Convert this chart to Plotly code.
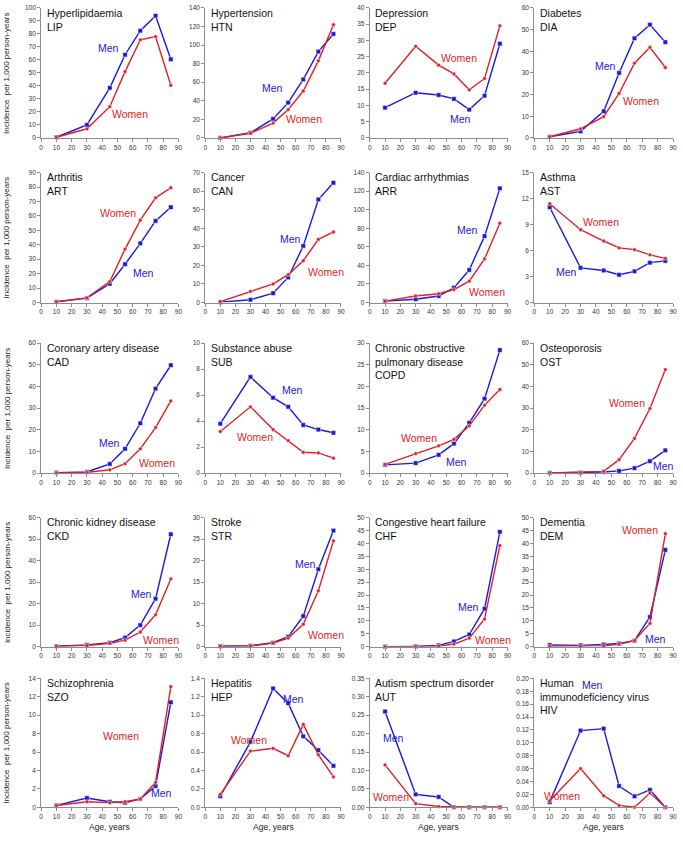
import plotly.graph_objects as go

ages = [10, 30, 45, 55, 65, 75, 85]

lip_men = [0.5, 10, 38.5, 64, 82.5, 94, 60.5]
lip_women = [0.5, 7, 24, 51, 75.5, 78, 40.5]
htn_men = [0, 5.5, 20.5, 38, 63, 93, 112]
htn_women = [0, 5, 16, 30.5, 50.5, 83, 122]
dep_men = [9.3, 13.9, 13.2, 12, 8.7, 13, 29]
dep_women = [16.8, 28.2, 22.4, 19.7, 14.8, 18.3, 34.5]
dia_men = [0.5, 3, 12.3, 30, 46, 52.3, 44.2]
dia_women = [0.5, 4.2, 9.8, 20.5, 34.5, 41.8, 32.5]
art_men = [0.5, 3, 13, 26.5, 41, 56.5, 66]
art_women = [0.5, 3.2, 14.5, 37, 57, 72.5, 79.5]
can_men = [0.2, 1.5, 5, 13.5, 30.5, 55.5, 64.5]
can_women = [0.5, 6, 10, 15, 22.5, 34, 38]
arr_men = [1.5, 3.5, 7, 16, 35, 71.5, 123]
arr_women = [1.5, 7, 9.5, 14, 23, 47, 85.5]
ast_men = [11, 4, 3.7, 3.2, 3.6, 4.6, 4.8]
ast_women = [11.4, 8.4, 7.1, 6.3, 6.1, 5.5, 5.1]
cad_men = [0.2, 0.5, 4.2, 11.2, 23, 39, 49.8]
cad_women = [0.1, 0.3, 1.5, 4.3, 11.2, 21, 33.3]
sub_men = [3.8, 7.4, 5.8, 5.1, 3.7, 3.35, 3.1]
sub_women = [3.2, 5.1, 3.35, 2.5, 1.6, 1.55, 1.15]
copd_men = [1.9, 2.3, 4.2, 6.8, 11.6, 17.2, 28.4]
copd_women = [2, 4.5, 6.3, 7.8, 10.9, 15.7, 19.3]
ost_men = [0.1, 0.2, 0.5, 1.0, 2.3, 5.5, 10.5]
ost_women = [0.1, 0.3, 0.8, 6.2, 16, 29.8, 47.8]
ckd_men = [0.2, 0.8, 1.8, 4.2, 10, 22.3, 52.3]
ckd_women = [0.1, 0.5, 1.5, 3, 6.8, 14.8, 31.5]
str_men = [0.1, 0.2, 0.9, 2.3, 7.1, 18, 27]
str_women = [0.05, 0.15, 0.8, 2.0, 5.2, 13, 24.6]
chf_men = [0, 0.1, 0.5, 2, 4.7, 14.7, 44.5]
chf_women = [0, 0.05, 0.2, 1, 3.3, 10.7, 39.2]
dem_men = [0.6, 0.5, 0.8, 1.2, 2.3, 11.5, 37.5]
dem_women = [0.1, 0.1, 0.3, 0.9, 2.4, 9, 43.8]
szo_men = [0.2, 1.0, 0.6, 0.5, 0.9, 2.3, 11.4]
szo_women = [0.2, 0.6, 0.5, 0.6, 0.9, 2.7, 13.1]
hep_men = [0.12, 0.71, 1.29, 1.13, 0.77, 0.62, 0.45]
hep_women = [0.14, 0.61, 0.64, 0.56, 0.90, 0.57, 0.33]
aut_men = [0.26, 0.035, 0.028, 0.0, 0.0, 0.0, 0.0]
aut_women = [0.115, 0.01, 0.002, 0.0, 0.0, 0.0, 0.0]
hiv_men = [0.008, 0.119, 0.122, 0.033, 0.017, 0.027, 0.0]
hiv_women = [0.01, 0.06, 0.018, 0.003, 0.0, 0.022, 0.0]

titles = ["Hyperlipidaemia<br>LIP", "Hypertension<br>HTN", "Depression<br>DEP", "Diabetes<br>DIA",
          "Arthritis<br>ART", "Cancer<br>CAN", "Cardiac arrhythmias<br>ARR", "Asthma<br>AST",
          "Coronary artery disease<br>CAD", "Substance abuse<br>SUB",
          "Chronic obstructive<br>pulmonary disease<br>COPD", "Osteoporosis<br>OST",
          "Chronic kidney disease<br>CKD", "Stroke<br>STR", "Congestive heart failure<br>CHF", "Dementia<br>DEM",
          "Schizophrenia<br>SZO", "Hepatitis<br>HEP", "Autism spectrum disorder<br>AUT",
          "Human<br>immunodeficiency virus<br>HIV"]
men_series = [lip_men, htn_men, dep_men, dia_men, art_men, can_men, arr_men, ast_men,
              cad_men, sub_men, copd_men, ost_men, ckd_men, str_men, chf_men, dem_men,
              szo_men, hep_men, aut_men, hiv_men]
women_series = [lip_women, htn_women, dep_women, dia_women, art_women, can_women, arr_women, ast_women,
                cad_women, sub_women, copd_women, ost_women, ckd_women, str_women, chf_women, dem_women,
                szo_women, hep_women, aut_women, hiv_women]
y_max = [100, 140, 40, 60, 90, 70, 140, 15, 60, 10, 30, 60, 60, 30, 50, 50, 14, 1.4, 0.35, 0.20]
y_step = [10, 20, 5, 10, 10, 10, 20, 3, 10, 2, 5, 10, 10, 5, 5, 5, 2, 0.2, 0.05, 0.02]
y_fmt = ["", "", "", "", "", "", "", "", "", "", "", "", "", "", "", "", "", ".1f", ".2f", ".2f"]
# label positions (data coords) for "Men" / "Women"
men_lab = [(44, 69.5), (44.5, 54), (59.4, 5.9), (46, 33.4), (67, 20.6), (56.5, 34.4), (63.9, 77.7), (21.1, 3.5),
           (44.7, 13.9), (58, 6.4), (56.5, 2.45), (83.8, 3.3), (65.7, 24.5), (66.8, 19.3), (64.7, 15.5), (78.5, 3.1),
           (79, 1.5), (58.5, 1.18), (15.5, 0.188), (38, 0.189)]
women_lab = [(58, 18.3), (65.2, 20.6), (58.3, 24.7), (68.9, 17.1), (50.2, 62), (79.9, 16.6), (76.6, 11), (43, 9.35),
             (76.2, 4.7), (32.8, 2.8), (32.2, 8.2), (60.4, 32.2), (78.8, 3.2), (79.9, 2.8), (80.7, 2.7), (68.5, 45.4),
             (52.3, 7.75), (28.9, 0.73), (13.6, 0.027), (17.9, 0.017)]

W, H = 683, 843
col_px = [(39.5, 178), (205, 342), (371, 510), (537, 677)]
row_px = [(4, 135), (170, 301), (342, 473), (518, 648), (680, 810)]

BLUE = "rgb(25,25,215)"
RED = "rgb(225,30,35)"
FONT = "Liberation Sans, Arial, sans-serif"

fig = go.Figure()
layout = dict(width=W, height=H, margin=dict(l=0, r=0, t=0, b=0),
              paper_bgcolor="white", plot_bgcolor="white", showlegend=False,
              font=dict(family=FONT))
annotations = []

for i in range(20):
    r, c = divmod(i, 4)
    n = i + 1
    sfx = "" if n == 1 else str(n)
    x0, x1 = col_px[c]
    t, b = row_px[r]
    axcommon = dict(showline=True, linecolor="#8c8c8c", linewidth=1, ticks="outside", ticklen=3,
                    tickcolor="#8c8c8c", tickfont=dict(size=6.5, color="#333", family=FONT),
                    showgrid=False, zeroline=False, fixedrange=True)
    layout["xaxis" + sfx] = dict(domain=[x0 / W, x1 / W], range=[0, 90], dtick=10, tick0=0,
                                 anchor="y" + sfx, **axcommon)
    ya = dict(domain=[1 - b / H, 1 - t / H], range=[0, y_max[i]], dtick=y_step[i], tick0=0,
              anchor="x" + sfx, **axcommon)
    if y_fmt[i]:
        ya["tickformat"] = y_fmt[i]
    layout["yaxis" + sfx] = ya

    fig.add_trace(go.Scatter(x=ages, y=men_series[i], mode="lines+markers", xaxis="x" + sfx, yaxis="y" + sfx,
                             line=dict(color=BLUE, width=1.4),
                             marker=dict(symbol="square", size=4.5, color=BLUE, line=dict(color="white", width=0.5)),
                             cliponaxis=False))
    fig.add_trace(go.Scatter(x=ages, y=women_series[i], mode="lines+markers", xaxis="x" + sfx, yaxis="y" + sfx,
                             line=dict(color=RED, width=1.4),
                             marker=dict(symbol="circle", size=3.8, color=RED, line=dict(color="white", width=0.5)),
                             cliponaxis=False))

    annotations.append(dict(text=titles[i], xref="x" + sfx + " domain", yref="y" + sfx + " domain",
                            x=0.025, y=1.025, xanchor="left", yanchor="top", align="left", showarrow=False,
                            font=dict(size=10.5, color="#111", family=FONT)))
    annotations.append(dict(text="Men", xref="x" + sfx, yref="y" + sfx, x=men_lab[i][0], y=men_lab[i][1],
                            showarrow=False, font=dict(size=10.5, color=BLUE, family=FONT)))
    annotations.append(dict(text="Women", xref="x" + sfx, yref="y" + sfx, x=women_lab[i][0], y=women_lab[i][1],
                            showarrow=False, font=dict(size=10.5, color=RED, family=FONT)))

for t, b in row_px:
    annotations.append(dict(text="Incidence  per 1,000 person-years", xref="paper", yref="paper",
                            x=5 / W, y=1 - (t + b) / 2 / H, textangle=-90, showarrow=False,
                            xanchor="center", yanchor="middle",
                            font=dict(size=8, color="#222", family=FONT)))
for x0, x1 in col_px:
    annotations.append(dict(text="Age, years", xref="paper", yref="paper", x=(x0 + x1) / 2 / W,
                            y=1 - 830 / H, showarrow=False, xanchor="center", yanchor="middle",
                            font=dict(size=8.5, color="#222", family=FONT)))

layout["annotations"] = annotations
fig.update_layout(**layout)
fig.write_html("out.html", config={"displayModeBar": False},
               post_script="document.body.style.margin='0px';document.body.style.overflow='hidden';")
